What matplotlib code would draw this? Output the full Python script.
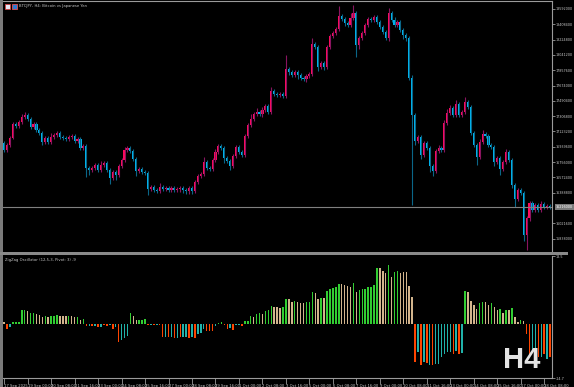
import numpy as np
import matplotlib.pyplot as plt
from matplotlib.patches import Rectangle
from matplotlib.transforms import blended_transform_factory

W, H = 574, 387

symbol_title = "BTCJPY, H4: Bitcoin vs Japanese Yen"
osc_title = "ZigZag Oscillator (12,5,3, Pivot: 3) -9"
timeframe = "H4"

# H4 candles, prices in thousand JPY (open of bar n = close of bar n-1)
first_open = 16984
closes = [
    16900, 16960, 17044, 17212, 17188, 17236, 17296, 17320, 17272, 17176,
    17212, 17140, 17104, 16996, 17044, 16996, 17056, 17080, 17104, 17056,
    17044, 17032, 17056, 17068, 17008, 17032, 16924, 16948, 16684, 16660,
    16684, 16720, 16660, 16720, 16744, 16660, 16564, 16636, 16600, 16708,
    16780, 16900, 16924, 16888, 16792, 16648, 16672, 16636, 16624, 16432,
    16456, 16420, 16408, 16456, 16432, 16444, 16420, 16444, 16420, 16432,
    16444, 16420, 16408, 16444, 16408, 16516, 16588, 16612, 16756, 16684,
    16672, 16780, 16876, 16948, 16924, 16804, 16768, 16708, 16828, 16936,
    16876, 16840, 17068, 17200, 17272, 17332, 17356, 17332, 17380, 17428,
    17356, 17608, 17572, 17560, 17572, 17548, 17872, 17836, 17800, 17836,
    17800, 17764, 17752, 17788, 17812, 18172, 18136, 17896, 17944, 17896,
    18136, 18268, 18304, 18352, 18508, 18472, 18424, 18400, 18484, 18544,
    18160, 18244, 18304, 18400, 18472, 18460, 18496, 18436, 18376, 18316,
    18244, 18544, 18460, 18400, 18436, 18340, 18280, 18244, 17764, 17320,
    17008, 17056, 16840, 16984, 16924, 16708, 16648, 16888, 16924, 16900,
    17224, 17344, 17404, 17320, 17452, 17320, 17356, 17476, 17416, 17104,
    16960, 16816, 16996, 17092, 17068, 16960, 16936, 16756, 16804, 16672,
    16756, 16876, 16780, 16480, 16312, 16420, 16384, 15880, 16084, 16264,
    16180, 16240, 16180, 16252, 16216, 16228, 16216,
]
upper_wick = [
    24, 24, 24, 24, 24, 24, 36, 36, 24, 24,
    24, 24, 24, 24, 24, 24, 48, 24, 24, 24,
    24, 24, 24, 24, 24, 24, 24, 24, 24, 24,
    24, 24, 24, 48, 24, 24, 24, 24, 24, 24,
    24, 36, 24, 24, 24, 24, 24, 24, 24, 24,
    24, 24, 24, 48, 24, 24, 24, 24, 24, 24,
    24, 24, 24, 24, 24, 24, 24, 24, 60, 24,
    24, 24, 36, 24, 24, 24, 24, 24, 24, 24,
    24, 24, 24, 24, 60, 24, 48, 24, 36, 24,
    24, 48, 24, 24, 24, 24, 168, 24, 24, 24,
    24, 24, 24, 24, 24, 72, 24, 24, 24, 24,
    24, 24, 24, 24, 120, 24, 24, 24, 60, 96,
    24, 24, 24, 24, 24, 24, 24, 24, 24, 24,
    24, 60, 24, 36, 24, 24, 24, 24, 24, 36,
    24, 24, 24, 24, 24, 24, 24, 24, 36, 24,
    36, 48, 36, 24, 48, 24, 24, 60, 24, 24,
    24, 24, 36, 48, 24, 24, 24, 24, 24, 24,
    24, 36, 24, 24, 24, 24, 24, 24, 24, 24,
    24, 24, 24, 36, 24, 24, 24,
]
lower_wick = [
    24, 24, 24, 12, 24, 24, 24, 24, 24, 24,
    24, 24, 24, 36, 24, 24, 24, 24, 24, 24,
    24, 24, 24, 24, 24, 24, 24, 24, 108, 60,
    24, 24, 24, 24, 24, 24, 72, 24, 60, 24,
    24, 24, 24, 24, 24, 60, 24, 24, 24, 72,
    24, 24, 24, 24, 24, 24, 24, 24, 24, 24,
    36, 36, 36, 36, 36, 24, 24, 24, 24, 24,
    24, 24, 24, 24, 24, 60, 24, 48, 24, 24,
    24, 24, 24, 24, 24, 24, 24, 24, 36, 24,
    24, 24, 24, 24, 24, 24, 24, 36, 24, 24,
    48, 24, 24, 36, 24, 24, 24, 48, 24, 36,
    24, 24, 24, 24, 24, 24, 36, 24, 24, 24,
    144, 48, 24, 24, 24, 24, 24, 24, 24, 24,
    24, 36, 24, 24, 24, 24, 48, 36, 24, 1080,
    48, 24, 48, 24, 24, 72, 60, 24, 24, 24,
    24, 24, 24, 24, 24, 24, 24, 24, 24, 24,
    24, 96, 24, 24, 24, 24, 24, 48, 24, 72,
    24, 24, 24, 36, 96, 24, 24, 72, 180, 36,
    24, 24, 24, 24, 24, 24, 24,
]

# ZigZag oscillator histogram and its colour buffer per bar
osc_values = [
    0.5, -1.4, -0.8, 0.5, 0.5, 0.5, 3.8, 3.8, 3.5, 3.0,
    3.0, 2.7, 2.5, 1.9, 2.2, 1.9, 2.2, 2.2, 2.5, 2.2,
    2.2, 2.2, 2.2, 2.2, 1.9, 1.9, 1.1, 1.4, -0.5, -0.5,
    -0.5, -0.5, -0.8, -0.8, -0.3, -0.5, -0.3, -1.4, -0.8, -4.9,
    -4.4, -3.8, -3.3, 3.0, 2.2, 1.1, 1.1, 1.1, 1.4, -0.3,
    -0.3, -0.3, -0.3, -0.3, -3.5, -3.5, -3.5, -3.5, -3.8, -3.8,
    -3.5, -3.5, -3.5, -3.8, -3.5, -3.8, -2.7, -2.5, -1.4, -1.9,
    -1.9, -1.9, -0.5, 0.3, 0.5, -0.3, -1.4, -1.1, -1.6, -0.3,
    -0.3, -0.5, 0.8, 0.8, 2.2, 1.9, 2.7, 3.0, 2.7, 3.5,
    3.8, 4.9, 4.6, 4.6, 4.4, 4.6, 6.8, 6.8, 6.0, 6.3,
    6.0, 5.7, 5.7, 6.0, 6.0, 8.7, 8.5, 6.8, 7.1, 7.1,
    9.0, 9.5, 9.8, 10.1, 10.9, 10.9, 10.6, 10.4, 10.1, 11.2,
    8.7, 9.3, 9.5, 9.5, 10.1, 10.1, 10.6, 15.3, 15.3, 14.5,
    13.9, 16.1, 12.8, 14.2, 14.5, 13.9, 14.2, 14.2, 10.4, 7.4,
    -10.4, -7.6, -11.2, -10.4, -10.6, -11.2, -11.2, -10.9, -10.9, -9.0,
    -8.2, -7.6, -7.6, -8.2, -7.4, -8.2, -7.9, 9.0, 8.7, 6.3,
    5.2, 4.1, 5.7, 6.0, 6.0, 5.2, 5.7, 4.6, 3.8, 4.1,
    3.0, 3.8, 3.8, 4.4, 1.9, 0.5, 1.1, 0.8, -2.7, -9.0,
    -7.9, -9.3, -9.0, -9.0, -8.2, -9.5, -9.0,
]
osc_state = (
    "TOEGGGGGTG" "GTTTGTGGGT" "TTGTTGTGOE" "OEOEOOEOEO" "EEEGTTGGGO"
    "EOEOOEOEOE" "OEEOEOEEEO" "OOEGGOOEOE" "EOGGGTGGTG" "GGTTTGGTTG"
    "TTTGGGTTGT" "GGGGGTTTTG" "TGGGGGGGTT" "TGTGGTTTTT" "OEOEOEOEEE"
    "EEEOEOEGTT" "TTGGTTGTTG" "TGTGTTGTOO" "EEOEOEO"
)

time_labels = [
    "17 Sep 2025", "19 Sep 00:00", "20 Sep 08:00", "21 Sep 16:00",
    "23 Sep 00:00", "24 Sep 08:00", "25 Sep 16:00", "27 Sep 00:00",
    "28 Sep 08:00", "29 Sep 16:00", "1 Oct 00:00", "2 Oct 08:00",
    "3 Oct 16:00", "5 Oct 00:00", "6 Oct 08:00", "7 Oct 16:00",
    "9 Oct 00:00", "10 Oct 08:00", "11 Oct 16:00", "13 Oct 00:00",
    "14 Oct 08:00", "15 Oct 16:00", "17 Oct 00:00", "18 Oct 08:00",
]
price_ticks = [
    18592000, 18408400, 18224800, 18041200, 17857600, 17674000,
    17490400, 17306800, 17123200, 16939600, 16756000, 16572400,
    16388800, 16021600, 15838000,
]
osc_ticks = [18.5, -14.7]

assert len(closes) == len(upper_wick) == len(lower_wick) == len(osc_values) == len(osc_state)

UP, DN = '#ff0a5e', '#00b4ee'
UPW, DNW = '#8a1460', '#0a6688'
STATE_COL = {'G': '#32cd32', 'T': '#d2b48c', 'O': '#ff4500', 'E': '#20b2aa'}
FG = '#c8c8c8'
LINE = '#9a9a9a'
FS = 2.7
FSY = 2.4

c = np.array(closes) * 1000.0
o = np.concatenate([[first_open * 1000.0], c[:-1]])
hi = np.maximum(o, c) + np.array(upper_wick) * 1000.0
lo = np.minimum(o, c) - np.array(lower_wick) * 1000.0
n = len(c)
idx = np.arange(n)
up = c >= o

fig = plt.figure(figsize=(W / 100, H / 100), dpi=100, facecolor='black')


def px_axes(x0, y0, x1, y1):
    return fig.add_axes([x0 / W, 1 - y1 / H, (x1 - x0) / W, (y1 - y0) / H])


ax = px_axes(3, 1, 552, 252)
ax2 = px_axes(3, 256, 552, 378)
xlim = (-0.4, 186.65)

# --- price panel
ax.set_facecolor('black')
ax.vlines(idx, lo, hi, colors=np.where(up, UPW, DNW), lw=0.8)
ax.bar(idx, np.maximum(np.abs(c - o), 9000), bottom=np.minimum(o, c), width=0.72,
       color=np.where(up, UP, DN), linewidth=0)
ax.set_xlim(*xlim)
ax.set_ylim(15676000, 18688000)
ax.axhline(c[-1], color='#808080', lw=0.8)
for s in ['left', 'bottom']:
    ax.spines[s].set_visible(False)
for s in ['top', 'right']:
    ax.spines[s].set_color(LINE)
    ax.spines[s].set_linewidth(0.8)
ax.set_xticks([])
ax.yaxis.tick_right()
ax.set_yticks(price_ticks)
ax.set_yticklabels([str(v) for v in price_ticks])
ax.tick_params(axis='y', length=2.2, width=0.6, color=LINE, labelsize=FSY, labelcolor=FG, pad=0.6)
tr = blended_transform_factory(ax.transAxes, ax.transData)
ax.text(1 + 4 / 549, c[-1], str(int(c[-1])), transform=tr, ha='left', va='center',
        fontsize=FSY, color='white',
        bbox=dict(facecolor='#7a7a7a', edgecolor='none', pad=0.6))

# --- oscillator panel
ax2.set_facecolor('black')
ax2.bar(idx, osc_values, width=0.5, color=[STATE_COL[s] for s in osc_state], linewidth=0)
ax2.set_xlim(*xlim)
ax2.set_ylim(osc_ticks[1], osc_ticks[0])
for s in ['left', 'top']:
    ax2.spines[s].set_visible(False)
for s in ['bottom', 'right']:
    ax2.spines[s].set_color(LINE)
    ax2.spines[s].set_linewidth(0.8)
ax2.yaxis.tick_right()
ax2.set_yticks(osc_ticks)
ax2.set_yticklabels([str(v) for v in osc_ticks])
ax2.tick_params(axis='y', length=2.2, width=0.6, color=LINE, labelsize=FSY, labelcolor=FG, pad=0.6)
ax2.set_xticks(np.arange(0, 8 * len(time_labels), 8))
ax2.set_xticklabels(time_labels, ha='left')
ax2.tick_params(axis='x', length=4, width=0.6, color=LINE, labelsize=FS, labelcolor=FG, pad=0.3)

# --- frame pieces and captions
fig.add_artist(Rectangle((0, 0), 3 / W, 1, transform=fig.transFigure, color='#7a7a7a', lw=0))
fig.add_artist(Rectangle((0, 1 - 255 / H), 568 / W, 3 / H, transform=fig.transFigure,
                         color='#8a8a8a', lw=0))
fig.add_artist(Rectangle((5 / W, 1 - 9 / H), 5 / W, 5 / H, transform=fig.transFigure,
                         facecolor='#e8e8f4', edgecolor='#d04040', lw=0.6))
fig.add_artist(Rectangle((12 / W, 1 - 9 / H), 5 / W, 5 / H, transform=fig.transFigure,
                         facecolor='#2f78d0', edgecolor='#e05050', lw=0.6))
fig.text(19 / W, 1 - 6 / H, symbol_title, fontsize=FS, color=FG, va='center')
fig.text(5 / W, 1 - 260 / H, osc_title, fontsize=FS, color=FG, va='center')
fig.text(503 / W, 1 - 368 / H, timeframe, fontsize=21, fontweight='bold',
         family='Liberation Sans', color='#e4e4e4', ha='left', va='baseline')

fig.savefig('out.png', dpi=100, facecolor='black')
